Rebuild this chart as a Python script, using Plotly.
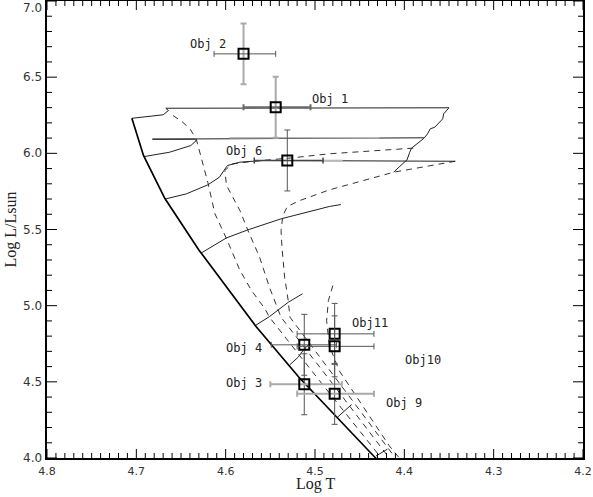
import plotly.graph_objects as go

# ---------------- data (log T, log L/Lsun) ----------------
zams_T = [4.705, 4.692, 4.668, 4.630, 4.566, 4.518, 4.433, 4.427]
zams_L = [6.230, 5.986, 5.703, 5.366, 4.863, 4.530, 4.005, 3.970]

trackA_T = [4.705, 4.685, 4.670, 4.664, 4.667, 4.350, 4.356, 4.357, 4.366, 4.371,
            4.374, 4.378, 4.384, 4.392, 4.394, 4.397, 4.405, 4.412]
trackA_L = [6.230, 6.242, 6.253, 6.281, 6.296, 6.299, 6.259, 6.227, 6.171, 6.161,
            6.128, 6.099, 6.073, 6.034, 6.007, 5.957, 5.915, 5.876]
trackB_T = [4.691, 4.663, 4.639, 4.633, 4.635, 4.682, 4.378]
trackB_L = [5.979, 6.007, 6.051, 6.084, 6.093, 6.093, 6.102]
trackC_T = [4.667, 4.644, 4.620, 4.607, 4.602, 4.598, 4.584, 4.558, 4.343]
trackC_L = [5.701, 5.734, 5.793, 5.843, 5.887, 5.920, 5.942, 5.953, 5.948]
trackD_T = [4.627, 4.599, 4.575, 4.538, 4.484, 4.471]
trackD_L = [5.347, 5.445, 5.498, 5.570, 5.651, 5.664]
trackE_T = [4.567, 4.551, 4.530, 4.514]
trackE_L = [4.869, 4.928, 5.022, 5.078]
trackF_T = [4.528, 4.519, 4.512, 4.506]
trackF_L = [4.613, 4.661, 4.716, 4.751]
trackG_T = [4.475, 4.467, 4.459]
trackG_L = [4.267, 4.311, 4.351]
trackH_T = [4.432, 4.419]
trackH_L = [4.012, 4.058]

iso1_T = [4.659, 4.649, 4.640, 4.633, 4.627, 4.620, 4.612, 4.599, 4.584, 4.571,
          4.556, 4.551, 4.495, 4.459, 4.428]
iso1_L = [6.248, 6.209, 6.161, 6.095, 5.964, 5.810, 5.603, 5.439, 5.231, 5.099,
          4.979, 4.924, 4.508, 4.246, 4.016]
iso2_T = [4.390, 4.439, 4.484, 4.528, 4.568, 4.593, 4.601, 4.599, 4.584, 4.575,
          4.562, 4.551, 4.538, 4.483, 4.449, 4.419]
iso2_L = [6.034, 6.015, 5.997, 5.969, 5.949, 5.930, 5.887, 5.789, 5.624, 5.493,
          5.318, 5.121, 4.924, 4.508, 4.246, 4.016]
iso3_T = [4.343, 4.412, 4.484, 4.517, 4.531, 4.536, 4.538, 4.537, 4.534, 4.530,
          4.528, 4.475, 4.441, 4.412]
iso3_L = [5.948, 5.876, 5.760, 5.690, 5.651, 5.592, 5.493, 5.384, 5.187, 5.034,
          4.924, 4.508, 4.246, 4.016]
iso4_T = [4.480, 4.485, 4.487, 4.484, 4.473, 4.453, 4.436, 4.417, 4.405]
iso4_L = [5.132, 5.034, 4.902, 4.738, 4.574, 4.397, 4.246, 4.081, 3.996]

# unlabelled grey x-error segments
seg_T0 = [4.596, 4.492]
seg_T1 = [4.428, 4.469]
seg_L = [6.102, 5.953]

obj_names = ["Obj 2", "Obj 1", "Obj 6", "Obj 4", "Obj 3", "Obj11", "Obj10", "Obj 9"]
obj_T = [4.580, 4.544, 4.531, 4.512, 4.512, 4.478, 4.478, 4.478]
obj_L = [6.653, 6.303, 5.953, 4.743, 4.484, 4.815, 4.733, 4.421]
obj_T_plus = [0.033, 0.036, 0.037, 0.037, 0.038, 0.042, 0.042, 0.042]
obj_T_minus = [0.036, 0.039, 0.040, 0.036, 0.042, 0.044, 0.044, 0.044]
obj_L_err = [0.2, 0.2, 0.2, 0.2, 0.2, 0.2, 0.2, 0.2]
label_T = [4.620, 4.483, 4.580, 4.579, 4.579, 4.438, 4.379, 4.400]
label_L = [6.721, 6.358, 6.018, 4.723, 4.493, 4.887, 4.646, 4.359]

x_range = [4.8, 4.2]
y_range = [4.0, 7.0]
x_ticks = [4.8, 4.7, 4.6, 4.5, 4.4, 4.3, 4.2]
x_ticktext = ["4.8", "4.7", "4.6", "4.5", "4.4", "4.3", "4.2"]
y_ticks = [4.0, 4.5, 5.0, 5.5, 6.0, 6.5, 7.0]
y_ticktext = ["4.0", "4.5", "5.0", "5.5", "6.0", "6.5", "7.0"]
x_minor = [round(4.2 + k * 0.01, 2) for k in range(61)]
y_minor = [round(4.0 + k * 0.1, 1) for k in range(31)]

# ---------------- styles ----------------
xerr_color = ["#555", "#6a6a6a", "#444", "#555", "#aaa", "#555", "#555", "#aaa"]
xerr_width = [1, 2, 1.5, 1, 2, 1, 1, 2]
yerr_color = ["#aaa", "#aaa", "#555", "#555", "#555", "#555", "#555", "#555"]
yerr_width = [2, 2, 1, 1, 1, 1, 1, 1]

# plot area size in pixels (for tick lengths)
W, H = 593, 497
ML, MR, MT, MB = 47, 10, 1, 39
px_per_T = (W - ML - MR) / abs(x_range[1] - x_range[0])
px_per_L = (H - MT - MB) / abs(y_range[1] - y_range[0])

fig = go.Figure()


def add_line(T, L, width, color, dash=None):
    fig.add_trace(go.Scatter(x=T, y=L, mode="lines", hoverinfo="skip", showlegend=False,
                             line=dict(color=color, width=width, dash=dash)))


for T, L in [(iso1_T, iso1_L), (iso2_T, iso2_L), (iso3_T, iso3_L), (iso4_T, iso4_L)]:
    add_line(T, L, 1, "#333", "6px,5px")

for T, L in [(trackA_T, trackA_L), (trackB_T, trackB_L), (trackC_T, trackC_L),
             (trackD_T, trackD_L), (trackE_T, trackE_L), (trackF_T, trackF_L),
             (trackG_T, trackG_L), (trackH_T, trackH_L)]:
    add_line(T, L, 1, "#222")

add_line(zams_T, zams_L, 1.7, "#000")

for t0, t1, l in zip(seg_T0, seg_T1, seg_L):
    add_line([t0, t1], [l, l], 1.6, "#b8b8b8")

for i in range(len(obj_names)):
    fig.add_trace(go.Scatter(
        x=[obj_T[i]], y=[obj_L[i]], mode="markers", showlegend=False, hoverinfo="skip",
        marker=dict(symbol="square-open", size=10, color="#000", line=dict(width=2, color="#000")),
        error_x=dict(type="data", array=[obj_T_plus[i]], arrayminus=[obj_T_minus[i]],
                     color=xerr_color[i], thickness=xerr_width[i], width=3),
        error_y=dict(type="data", array=[obj_L_err[i]], arrayminus=[obj_L_err[i]],
                     color=yerr_color[i], thickness=yerr_width[i], width=3),
    ))

# ---------------- tick marks on all four sides (inside) ----------------
tx, ty = [], []
for v in x_minor:
    ln = (9 if v in x_ticks else 5) / px_per_L
    tx += [v, v, None, v, v, None]
    ty += [y_range[0], y_range[0] + ln, None, y_range[1], y_range[1] - ln, None]
for v in y_minor:
    ln = (10 if v in y_ticks else 5) / px_per_T
    tx += [x_range[0], x_range[0] - ln, None, x_range[1], x_range[1] + ln, None]
    ty += [v, v, None, v, v, None]
fig.add_trace(go.Scatter(x=tx, y=ty, mode="lines", hoverinfo="skip", showlegend=False,
                         line=dict(color="#000", width=1), connectgaps=False))

annotations = []
for name, t, l in zip(obj_names, label_T, label_L):
    annotations.append(dict(x=t, y=l, xref="x", yref="y", text=name, showarrow=False,
                            font=dict(family="DejaVu Sans Mono", size=12, color="#222"),
                            xanchor="center", yanchor="middle"))

for v, txt in zip(y_ticks, y_ticktext):
    annotations.append(dict(x=0, y=v, xref="paper", yref="y", text=txt, showarrow=False,
                            font=dict(family="DejaVu Sans", size=12, color="#333"),
                            xanchor="right", yanchor="top" if v == 7.0 else "middle",
                            xshift=-3, yshift=2 if v == 7.0 else 0))

annotations.append(dict(x=0.5, y=0, xref="paper", yref="paper", text="Log T", showarrow=False,
                        font=dict(family="Liberation Serif", size=16, color="#222"),
                        xanchor="center", yanchor="middle", yshift=-26))
annotations.append(dict(x=0, y=0.5, xref="paper", yref="paper", text="Log L/Lsun",
                        showarrow=False, textangle=-90,
                        font=dict(family="Liberation Serif", size=16, color="#222"),
                        xanchor="center", yanchor="middle", xshift=-37))

axis_common = dict(showgrid=False, zeroline=False, ticks="", automargin=False,
                   showline=True, linecolor="#000", linewidth=1.5, mirror=True)

fig.update_layout(
    width=W, height=H,
    margin=dict(l=ML, r=MR, t=MT, b=MB, autoexpand=False),
    paper_bgcolor="white", plot_bgcolor="white",
    showlegend=False,
    annotations=annotations,
    xaxis=dict(range=x_range, tickmode="array", tickvals=x_ticks, ticktext=x_ticktext,
               tickfont=dict(family="DejaVu Sans", size=11, color="#333"),
               ticklabelstandoff=2, **axis_common),
    yaxis=dict(range=y_range, showticklabels=False, **axis_common),
)

fig.write_html("out.html", config={"displayModeBar": False},
               post_script="document.body.style.margin='0';document.body.style.padding='0';")
